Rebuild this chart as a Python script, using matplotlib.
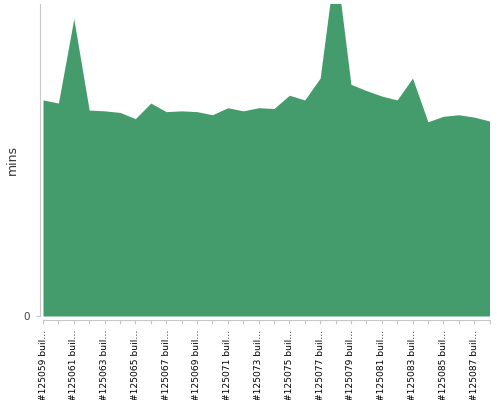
import matplotlib
matplotlib.use("Agg")
import matplotlib.pyplot as plt
import numpy as np

# build durations (mins)
builds = ["#%d build" % n for n in range(125059, 125089)]
mins = [27.7, 27.3, 38.1, 26.4, 26.3, 26.1, 25.3, 27.3, 26.2, 26.3,
        26.2, 25.8, 26.7, 26.3, 26.7, 26.6, 28.3, 27.7, 30.5, 45.6,
        29.7, 28.9, 28.2, 27.7, 30.5, 24.9, 25.6, 25.8, 25.5, 25.0]

def short(s, n=12):
    return s[:n] + "\u2026" if len(s) > n else s

fig = plt.figure(figsize=(5, 4), dpi=100)
ax = fig.add_axes([0.086, 0.21, 0.893, 0.78])

x = np.arange(len(mins))
ax.fill_between(x, mins, 0, color="#449c6c", linewidth=0)
ax.set_xlim(0, len(mins) - 1)
ax.set_ylim(0, 40)

ax.spines["top"].set_visible(False)
ax.spines["right"].set_visible(False)
ax.spines["left"].set_position(("outward", 2.2))
ax.spines["bottom"].set_position(("outward", 3))
ax.spines["left"].set_color("#c8c8c8")
ax.spines["bottom"].set_color("#c8c8c8")

ax.set_yticks([0])
ax.set_yticklabels(["0"], fontsize=7.5, color="#444444")
ax.tick_params(axis="y", length=3, color="#c8c8c8", pad=4)

ax.set_xticks(x)
labels = [short(b) if i % 2 == 0 else "" for i, b in enumerate(builds)]
ax.set_xticklabels(labels, rotation=90, fontsize=6.6, ha="center", va="top")
ax.tick_params(axis="x", length=3, color="#c8c8c8", pad=4)

ax.set_ylabel("mins", fontsize=9, color="#333333")
ax.yaxis.set_label_coords(-0.055, 0.5)

fig.savefig("out.png", dpi=100)
